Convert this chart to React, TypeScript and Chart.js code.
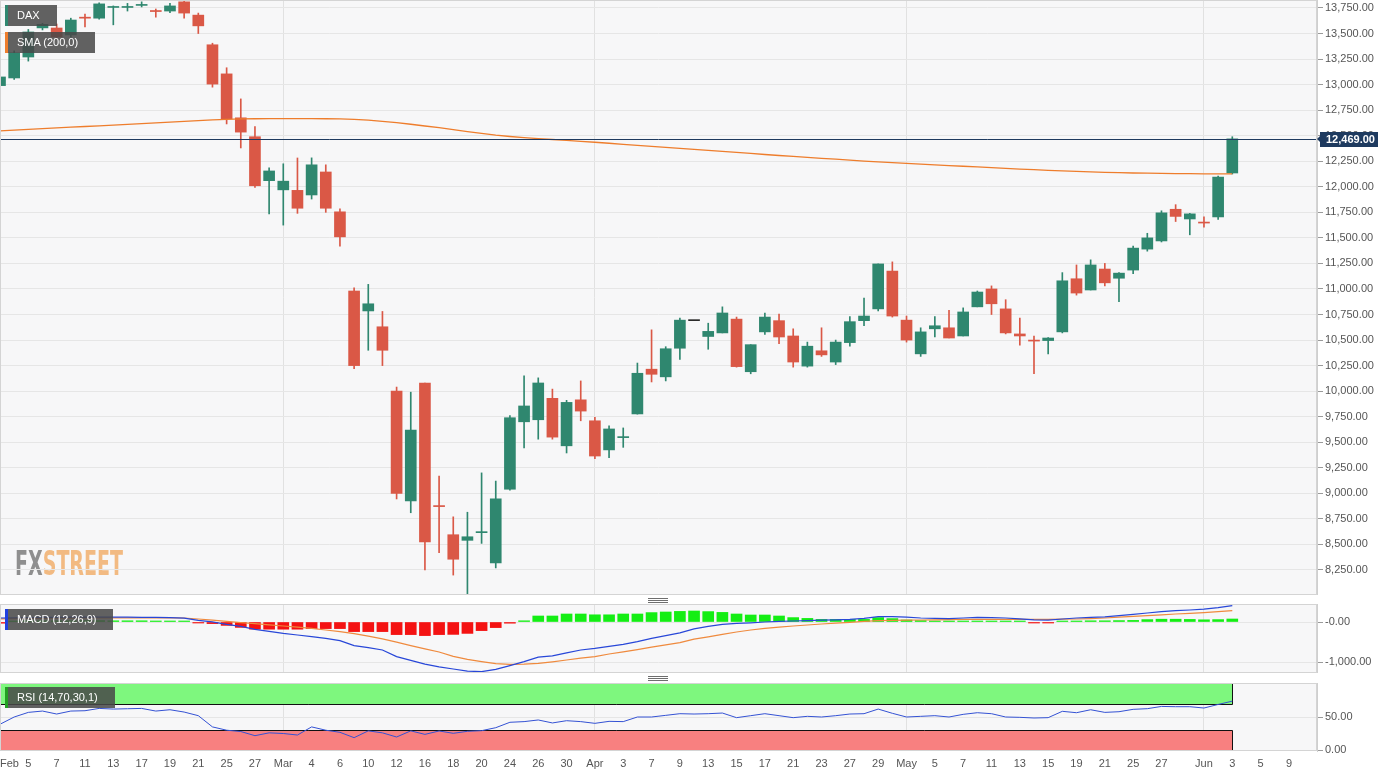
import React, { useEffect, useRef } from 'react';
import { Chart, registerables } from 'chart.js';

Chart.register(...registerables);

const FONT = '"Liberation Sans", Arial, Helvetica, sans-serif';

// ---------- DATA (daily DAX candles, Feb 3 .. Jun 3) ----------
const opens = [
  12990, 13065, 13270, 13555, 13554, 13486, 13660, 13650, 13755, 13755,
  13775, 13725, 13720, 13810, 13680, 13390, 13105, 12675, 12490, 12060,
  11970, 11965, 11920, 12145, 11755, 10980, 10785, 10630, 10000, 8925,
  10080, 8880, 8595, 8540, 8615, 8320, 9040, 9700, 9720, 9930,
  9465, 9915, 9710, 9425, 9545, 9777, 10215, 10140, 10420, 10690,
  10535, 10570, 10705, 10190, 10580, 10690, 10540, 10245, 10395, 10285,
  10475, 10690, 10805, 11175, 10695, 10365, 10610, 10620, 10540, 10825,
  11000, 10805, 10560, 10495, 10495, 10580, 11100, 10990, 11195, 11105,
  11185, 11390, 11470, 11780, 11685, 11650, 11705, 12135,
];
const highs = [
  13090, 13330, 13540, 13600, 13593, 13650, 13690, 13800, 13770, 13795,
  13810, 13740, 13795, 13815, 13700, 13405, 13165, 12860, 12590, 12185,
  12225, 12282, 12283, 12215, 11785, 11010, 11045, 10780, 10040, 9990,
  10080, 9170, 8770, 8815, 9200, 9120, 9760, 10150, 10130, 10020,
  9910, 10100, 9745, 9660, 9640, 10275, 10600, 10435, 10715, 10690,
  10665, 10825, 10725, 10455, 10765, 10755, 10610, 10480, 10620, 10500,
  10730, 10910, 11245, 11265, 10735, 10620, 10730, 10790, 10815, 10980,
  11030, 10895, 10715, 10540, 10525, 11160, 11235, 11285, 11250, 11160,
  11420, 11545, 11765, 11825, 11740, 11705, 12105, 12490,
];
const lows = [
  12975, 13050, 13230, 13535, 13455, 13465, 13565, 13640, 13585, 13720,
  13760, 13660, 13705, 13650, 13500, 12975, 12615, 12380, 11995, 11735,
  11625, 11740, 11880, 11750, 11420, 10220, 10400, 10250, 8945, 8810,
  8250, 8420, 8200, 8015, 8510, 8270, 9030, 9445, 9530, 9530,
  9395, 9710, 9340, 9350, 9450, 9775, 10090, 10100, 10310, 10690,
  10410, 10570, 10235, 10170, 10555, 10465, 10235, 10235, 10340, 10260,
  10440, 10640, 10785, 10725, 10480, 10340, 10530, 10520, 10540, 10825,
  10750, 10560, 10450, 10170, 10365, 10570, 10940, 10990, 11030, 10875,
  11150, 11370, 11460, 11660, 11530, 11605, 11680, 12125,
];
const closes = [
  13075, 13310, 13515, 13590, 13466, 13632, 13650, 13790, 13760, 13762,
  13782, 13715, 13770, 13700, 13575, 13005, 12665, 12535, 12010, 12155,
  12055, 11790, 12215, 11790, 11510, 10250, 10855, 10400, 9000, 9620,
  8525, 8870, 8355, 8575, 8625, 8945, 9740, 9855, 10080, 9550,
  9890, 9805, 9365, 9630, 9555, 10175, 10165, 10415, 10695, 10690,
  10585, 10765, 10240, 10455, 10725, 10530, 10285, 10440, 10355, 10480,
  10680, 10735, 11245, 10735, 10500, 10580, 10640, 10520, 10775, 10970,
  10855, 10570, 10540, 10490, 10520, 11080, 10960, 11235, 11060, 11155,
  11400, 11500, 11745, 11710, 11735, 11645, 12095, 12469,
];
const sma200 = [
  12548, 12555, 12562, 12569, 12576, 12583, 12590, 12597, 12604, 12611,
  12618, 12625, 12632, 12640, 12648, 12655, 12660, 12664, 12666, 12667,
  12667, 12667, 12667, 12666, 12664, 12660, 12652, 12640, 12628, 12612,
  12595, 12578, 12560, 12540, 12522, 12505, 12492, 12482, 12472, 12463,
  12454, 12445, 12436, 12426, 12416, 12406, 12396, 12386, 12376, 12366,
  12356, 12346, 12336, 12326, 12316, 12306, 12297, 12288, 12279, 12270,
  12261, 12252, 12243, 12236, 12229, 12222, 12215, 12208, 12201, 12194,
  12187, 12180, 12173, 12167, 12161, 12155, 12150, 12145, 12141, 12138,
  12135, 12133, 12131, 12129, 12128, 12127, 12126, 12126,
];
const macdLine = [
  100, 105, 110, 115, 118, 120, 120, 122, 122, 120,
  118, 115, 110, 95, 40, 5, -60, -110, -185, -235,
  -285, -325, -365, -410, -465, -590, -640, -700, -865, -960,
  -1055, -1120, -1175, -1230, -1240, -1185, -1090, -990, -880, -845,
  -770, -700, -660, -610, -560, -490, -410, -340, -270, -170,
  -110, -60, -35, -20, 0, 15, 25, 35, 45, 55,
  65, 90, 135, 135, 120, 100, 90, 85, 100, 115,
  110, 100, 80, 55, 45, 75, 100, 115, 130, 160,
  190, 225, 260, 285, 300, 320, 360, 410,
];
const signalLine = [
  80, 85, 88, 92, 95, 98, 100, 102, 103, 104,
  104, 103, 102, 100, 75, 45, 15, -15, -40, -70,
  -100, -130, -160, -200, -240, -290, -355, -420, -505, -590,
  -670, -750, -860, -935, -990, -1040, -1060, -1055, -1035, -995,
  -950, -905, -865, -800, -745, -690, -630, -570, -515, -430,
  -370, -310, -250, -200, -160, -130, -100, -75, -50, -30,
  -10, 15, 35, 40, 45, 50, 55, 60, 65, 65,
  65, 65, 65, 65, 65, 70, 75, 85, 100, 120,
  140, 160, 180, 200, 215, 235, 260, 285,
];
const macdHist = [
  -30, 25, 30, 30, 30, 30, 35, 35, 30, 30,
  30, 25, 20, 15, -10, -40, -85, -135, -180, -180,
  -180, -180, -165, -165, -165, -240, -240, -240, -315, -315,
  -340, -315, -310, -285, -215, -140, -30, 30, 150, 150,
  200, 200, 180, 180, 200, 200, 235, 250, 265, 275,
  260, 240, 200, 175, 175, 150, 110, 90, 65, 65,
  65, 65, 110, 85, 50, 35, 25, 15, 10, 15,
  15, 5, 5, -20, -20, 5, 15, 30, 30, 35,
  40, 60, 70, 70, 65, 55, 60, 75,
];
const rsi14 = [
  39, 50, 57, 59, 54.5, 59, 59.5, 63, 62, 62.5,
  63, 59, 61, 57.5, 52, 35, 30, 28, 21.7, 26,
  25, 22.7, 35, 30, 26.8, 18.7, 29, 26, 19.7, 29,
  23.7, 28.8, 25.3, 28.3, 29.3, 33.8, 42, 43, 45.5, 41,
  44.4, 43, 40.4, 43.4, 43, 50, 50, 52.5, 55, 54.5,
  55, 56, 49, 52, 55, 52, 49, 51, 50, 52,
  54.5, 55, 62, 55.6, 50, 51, 52, 50, 54, 56.5,
  55, 50, 49.5, 48.5, 49, 58.6, 56.5, 61, 57, 58,
  61.6, 62.6, 66, 65.6, 65.6, 63.6, 69, 74,
];

// x-axis tick labels (trading-day index -> label)
const tickIndex = [
  0, 2, 4, 6, 8, 10, 12, 14, 16, 18,
  20, 22, 24, 26, 28, 30, 32, 34, 36, 38, 40,
  42, 44, 46, 48, 50, 52, 54, 56, 58, 60, 62,
  64, 66, 68, 70, 72, 74, 76, 78, 80, 82,
  85, 87, 89, 91,
];
const tickText = [
  'Feb', '5', '7', '11', '13', '17', '19', '21', '25', '27',
  'Mar', '4', '6', '10', '12', '16', '18', '20', '24', '26', '30',
  'Apr', '3', '7', '9', '13', '15', '17', '21', '23', '27', '29',
  'May', '5', '7', '11', '13', '15', '19', '21', '25', '27',
  'Jun', '3', '5', '9',
];
const monthTickIndex = [0, 20, 42, 64, 85];
const priceTicks = [
  8250, 8500, 8750, 9000, 9250, 9500, 9750, 10000, 10250, 10500, 10750,
  11000, 11250, 11500, 11750, 12000, 12250, 12500, 12750, 13000, 13250, 13500, 13750,
];
const macdTicks = [-1000, 0];
const macdTickText = ['-1,000.00', '-0.00'];
const rsiTicks = [0, 50];
const rsiLevels = [30, 70];

// ---------- STYLE ----------
const X_MIN = 0;
const X_MAX = 92.98;
const AXIS_W = 77;
const PLOT_BG = '#f7f7f8';
const GRID = '#e6e6e6';
const UP = '#2f876f';
const DOWN = '#da5846';
const FLAT = '#2a2a2a';
const SMA_C = '#ee7d2c';
const NAVY = '#1e3a5f';

Chart.defaults.font.family = FONT;
Chart.defaults.color = '#555';

const fmt = (v: number) =>
  v.toLocaleString('en-US', { minimumFractionDigits: 2, maximumFractionDigits: 2 });

function xAxis(showLabels: boolean): any {
  return {
    type: 'linear',
    min: X_MIN,
    max: X_MAX,
    offset: false,
    afterBuildTicks: (s: any) => {
      s.ticks = tickIndex.map((v) => ({ value: v })).concat([{ value: X_MAX }]);
    },
    afterFit: (s: any) => {
      s.paddingLeft = 0;
      s.paddingRight = 0;
      s.height = showLabels ? 26 : 0;
    },
    grid: {
      offset: false,
      drawTicks: false,
      color: (c: any) =>
        c.tick && monthTickIndex.includes(c.tick.value) ? '#e1e1e1' : 'rgba(0,0,0,0)',
    },
    border: { display: false },
    ticks: {
      display: showLabels,
      autoSkip: false,
      maxRotation: 0,
      minRotation: 0,
      align: 'inner',
      padding: 6,
      color: '#555',
      font: { family: FONT, size: 11 },
      callback: (v: number) => {
        const k = tickIndex.indexOf(v);
        return k >= 0 ? tickText[k] : '';
      },
    },
  };
}

function yAxis(min: number, max: number, ticks: number[], label: (v: number) => string): any {
  return {
    type: 'linear',
    position: 'right',
    min,
    max,
    afterBuildTicks: (s: any) => {
      s.ticks = ticks.map((v) => ({ value: v }));
    },
    afterFit: (s: any) => {
      s.width = AXIS_W;
      s.paddingTop = 0;
      s.paddingBottom = 0;
    },
    grid: { color: GRID, tickLength: 6, tickColor: '#9a9a9a', drawTicks: true },
    border: { display: true, color: '#cfcfcf' },
    ticks: {
      padding: 2,
      color: '#555',
      font: { family: FONT, size: 11 },
      callback: (v: number) => label(v),
    },
  };
}

const panelBg = {
  id: 'panelBg',
  beforeDraw(chart: any) {
    const { ctx, chartArea: a } = chart;
    ctx.save();
    ctx.fillStyle = PLOT_BG;
    ctx.fillRect(a.left, a.top, a.right - a.left, a.bottom - a.top);
    ctx.restore();
  },
  afterDraw(chart: any) {
    const { ctx, chartArea: a } = chart;
    ctx.save();
    ctx.strokeStyle = '#d4d4d4';
    ctx.lineWidth = 1;
    ctx.strokeRect(a.left + 0.5, a.top + 0.5, a.right - a.left - 1, a.bottom - a.top - 1);
    ctx.restore();
  },
};

const mainDecor = {
  id: 'mainDecor',
  beforeDraw(chart: any) {
    const { ctx, chartArea: a } = chart;
    ctx.save();
    ctx.font = 'bold 34px "DejaVu Sans Condensed", "Liberation Sans Narrow", sans-serif';
    ctx.textBaseline = 'alphabetic';
    const full = ctx.measureText('FXSTREET').width;
    const fx = ctx.measureText('FX').width;
    ctx.translate(a.left + 15, a.bottom - 20);
    ctx.scale(108 / full, 1);
    ctx.fillStyle = '#8f8f8f';
    ctx.fillText('FX', 0, 0);
    ctx.fillStyle = '#f2ba82';
    ctx.fillText('STREET', fx, 0);
    ctx.restore();
  },
  afterDatasetsDraw(chart: any) {
    const { ctx, chartArea: a, scales } = chart;
    const y = Math.round(scales.y.getPixelForValue(closes[closes.length - 1])) + 0.5;
    ctx.save();
    ctx.strokeStyle = NAVY;
    ctx.lineWidth = 1;
    ctx.beginPath();
    ctx.moveTo(a.left, y);
    ctx.lineTo(a.right, y);
    ctx.stroke();
    ctx.restore();
  },
  afterDraw(chart: any) {
    const { ctx, chartArea: a, scales } = chart;
    const last = closes[closes.length - 1];
    const y = Math.round(scales.y.getPixelForValue(last));
    ctx.save();
    ctx.fillStyle = NAVY;
    ctx.beginPath();
    ctx.moveTo(a.right, y);
    ctx.lineTo(a.right + 4, y - 4);
    ctx.lineTo(a.right + 4, y + 4);
    ctx.closePath();
    ctx.fill();
    ctx.fillRect(a.right + 3, y - 7, 58, 15);
    ctx.fillStyle = '#ffffff';
    ctx.font = `bold 11px ${FONT}`;
    ctx.textBaseline = 'middle';
    ctx.textAlign = 'left';
    ctx.fillText(fmt(last), a.right + 9, y + 1);
    ctx.restore();
  },
};

const rsiBands = {
  id: 'rsiBands',
  beforeDatasetsDraw(chart: any) {
    const { ctx, chartArea: a, scales } = chart;
    const xs = scales.x;
    const ys = scales.y;
    const xEnd = Math.round(xs.getPixelForValue(rsi14.length - 1)) + 0.5;
    const y100 = ys.getPixelForValue(100);
    const yHi = Math.round(ys.getPixelForValue(rsiLevels[1])) + 0.5;
    const yLo = Math.round(ys.getPixelForValue(rsiLevels[0])) + 0.5;
    const y0 = ys.getPixelForValue(0);
    ctx.save();
    ctx.fillStyle = '#7ef77e';
    ctx.fillRect(a.left, y100, xEnd - a.left, yHi - y100);
    ctx.fillStyle = '#f88080';
    ctx.fillRect(a.left, yLo, xEnd - a.left, y0 - yLo);
    ctx.strokeStyle = '#111';
    ctx.lineWidth = 1;
    ctx.beginPath();
    ctx.moveTo(a.left, yHi);
    ctx.lineTo(xEnd, yHi);
    ctx.moveTo(xEnd, y100);
    ctx.lineTo(xEnd, yHi);
    ctx.moveTo(a.left, yLo);
    ctx.lineTo(xEnd, yLo);
    ctx.moveTo(xEnd, yLo);
    ctx.lineTo(xEnd, y0);
    ctx.stroke();
    ctx.restore();
  },
};

const baseOptions: any = {
  responsive: false,
  maintainAspectRatio: false,
  devicePixelRatio: 1,
  animation: false,
  events: [],
  layout: { padding: 0 },
  plugins: { legend: { display: false }, tooltip: { enabled: false } },
};

function Legend({ top, text, color }: { top: number; text: string; color: string }) {
  return (
    <div
      style={{
        position: 'absolute',
        left: 5,
        top,
        height: 21,
        lineHeight: '21px',
        padding: '0 17px 0 9px',
        borderLeft: `3px solid ${color}`,
        background: 'rgba(72,72,72,0.86)',
        color: '#fff',
        fontFamily: FONT,
        fontSize: 11,
        whiteSpace: 'nowrap',
      }}
    >
      {text}
    </div>
  );
}

function Handle({ top }: { top: number }) {
  return (
    <div style={{ position: 'absolute', left: 648, top, width: 20, height: 6 }}>
      {[0, 2, 4].map((o) => (
        <div key={o} style={{ position: 'absolute', left: 0, top: o, width: 20, height: 1, background: '#6e6e6e' }} />
      ))}
    </div>
  );
}

export default function App() {
  const mainRef = useRef<HTMLCanvasElement>(null);
  const macdRef = useRef<HTMLCanvasElement>(null);
  const rsiRef = useRef<HTMLCanvasElement>(null);

  useEffect(() => {
    const candleColors = closes.map((c, i) => (c > opens[i] ? UP : c < opens[i] ? DOWN : FLAT));

    const main = new Chart(mainRef.current as HTMLCanvasElement, {
      type: 'bar',
      data: {
        datasets: [
          {
            type: 'line',
            data: sma200.map((v, i) => ({ x: i, y: v })),
            borderColor: SMA_C,
            borderWidth: 1.3,
            pointRadius: 0,
            order: 0,
          } as any,
          {
            type: 'bar',
            data: opens.map((o, i) => ({ x: i, y: [o, closes[i]] })),
            backgroundColor: candleColors,
            barThickness: 11,
            minBarLength: 1,
            grouped: false,
            order: 1,
          } as any,
          {
            type: 'bar',
            data: lows.map((l, i) => ({ x: i, y: [l, highs[i]] })),
            backgroundColor: candleColors,
            barThickness: 1,
            grouped: false,
            order: 2,
          } as any,
        ],
      },
      options: {
        ...baseOptions,
        scales: {
          x: xAxis(false),
          y: yAxis(8005, 13828, priceTicks, (v) => fmt(v)),
        },
      },
      plugins: [panelBg, mainDecor],
    } as any);

    const macd = new Chart(macdRef.current as HTMLCanvasElement, {
      type: 'bar',
      data: {
        datasets: [
          {
            type: 'line',
            data: macdLine.map((v, i) => ({ x: i, y: v })),
            borderColor: '#2847d8',
            borderWidth: 1.2,
            pointRadius: 0,
            order: 0,
          } as any,
          {
            type: 'line',
            data: signalLine.map((v, i) => ({ x: i, y: v })),
            borderColor: '#ef8a3e',
            borderWidth: 1.2,
            pointRadius: 0,
            order: 0,
          } as any,
          {
            type: 'bar',
            data: macdHist.map((v, i) => ({ x: i, y: v })),
            backgroundColor: macdHist.map((v) => (v >= 0 ? '#14ee14' : '#f41212')),
            barThickness: 11,
            minBarLength: 1,
            grouped: false,
            order: 1,
          } as any,
        ],
      },
      options: {
        ...baseOptions,
        scales: {
          x: xAxis(false),
          y: yAxis(-1275, 450, macdTicks, (v) => macdTickText[macdTicks.indexOf(v)] ?? ''),
        },
      },
      plugins: [panelBg],
    } as any);

    const rsi = new Chart(rsiRef.current as HTMLCanvasElement, {
      type: 'line',
      data: {
        datasets: [
          {
            data: rsi14.map((v, i) => ({ x: i, y: v })),
            borderColor: '#3452d4',
            borderWidth: 1,
            pointRadius: 0,
          },
        ],
      },
      options: {
        ...baseOptions,
        scales: {
          x: xAxis(true),
          y: yAxis(-1.5, 101.5, rsiTicks, (v) => fmt(v)),
        },
      },
      plugins: [panelBg, rsiBands],
    } as any);

    return () => {
      main.destroy();
      macd.destroy();
      rsi.destroy();
    };
  }, []);

  return (
    <div
      style={{
        position: 'absolute',
        left: 0,
        top: 0,
        width: 1394,
        height: 777,
        background: '#ffffff',
        overflow: 'hidden',
      }}
    >
      <canvas ref={mainRef} width={1394} height={595} style={{ position: 'absolute', left: 0, top: 0 }} />
      <canvas ref={macdRef} width={1394} height={69} style={{ position: 'absolute', left: 0, top: 604 }} />
      <canvas ref={rsiRef} width={1394} height={94} style={{ position: 'absolute', left: 0, top: 683 }} />
      <Legend top={5} text="DAX" color={UP} />
      <Legend top={32} text="SMA (200,0)" color={SMA_C} />
      <Legend top={609} text="MACD (12,26,9)" color="#2040e0" />
      <Legend top={687} text="RSI (14,70,30,1)" color="#22a022" />
      <Handle top={598} />
      <Handle top={676} />
    </div>
  );
}
